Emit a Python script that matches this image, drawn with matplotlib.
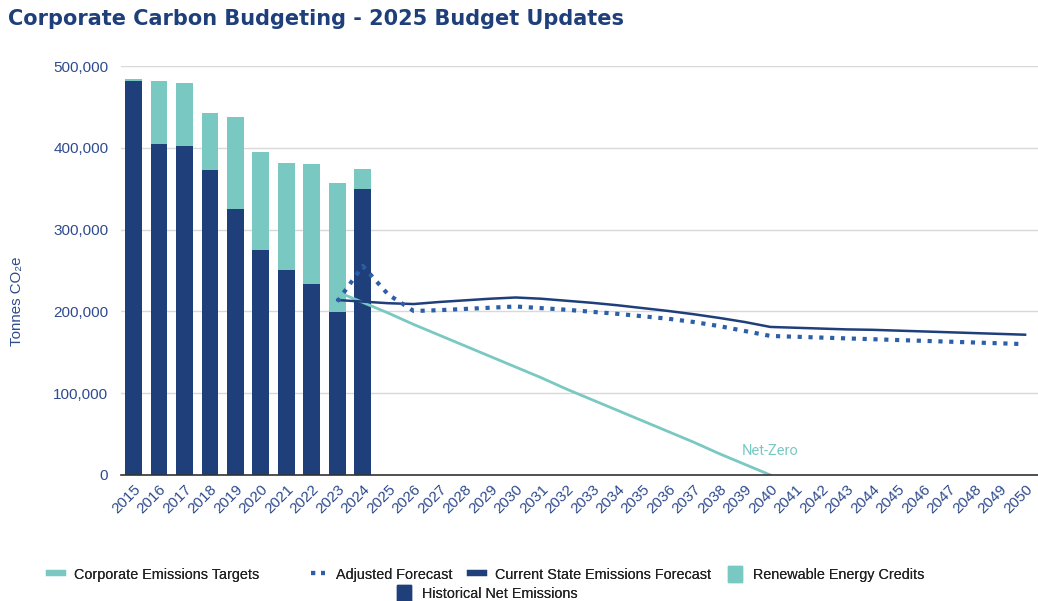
import matplotlib.pyplot as plt
from matplotlib.lines import Line2D
from matplotlib.patches import Patch

# ---- data ----
anos = list(range(2015, 2051))
anos_hist = list(range(2015, 2025))

emissoes_liquidas = [482000, 404500, 401800, 372900, 324800, 275000, 250600, 233000, 199700, 349600]
creditos_renovaveis = [2000, 77200, 77000, 69600, 113200, 119500, 130400, 146800, 156900, 24400]

anos_meta = list(range(2023, 2041))
metas_corporativas = [224000, 211000, 198000, 184000, 171000, 158000, 145000, 132000, 119000,
                      105000, 92000, 79000, 66000, 53000, 40000, 26000, 13000, 0]

anos_previsao = list(range(2023, 2051))
estado_atual = [213900, 212000, 210000, 209000, 211500, 213500, 215500, 217000, 215500, 213000,
                210500, 207500, 204000, 200500, 196500, 192000, 187000, 181000, 180000, 179000,
                178000, 177500, 176500, 175500, 174500, 173500, 172500, 171500]
previsao_ajustada = [212000, 255500, 220600, 200500, 201500, 203000, 204500, 206000, 204000, 202000,
                     199500, 197000, 194000, 191000, 187000, 182000, 176000, 170000, 169000, 168000,
                     167000, 166000, 165000, 164000, 163000, 162000, 161000, 160000]

# ---- cores ----
AZUL_ESCURO = '#1f3f7b'
TEAL = '#79c9c2'
AZUL_PONTILHADO = '#2c5fa8'
COR_TEXTO = '#2e4b8e'

plt.rcParams['font.family'] = ['Liberation Sans', 'DejaVu Sans']

fig = plt.figure(figsize=(10.38, 6.01), dpi=100)
ax = fig.add_axes([120.8 / 1038, 1 - 475 / 601, 917 / 1038, (475 - 66) / 601])

idx = {a: i for i, a in enumerate(anos)}
x_hist = [idx[a] for a in anos_hist]

ax.bar(x_hist, emissoes_liquidas, width=0.66, color=AZUL_ESCURO, zorder=2)
ax.bar(x_hist, creditos_renovaveis, width=0.66, bottom=emissoes_liquidas, color=TEAL, zorder=2)

ax.plot([idx[a] for a in anos_meta], metas_corporativas, color=TEAL, lw=2.0, zorder=3)
ax.plot([idx[a] for a in anos_previsao], estado_atual, color=AZUL_ESCURO, lw=1.8, zorder=4)
ax.plot([idx[a] for a in anos_previsao], previsao_ajustada, color=AZUL_PONTILHADO, lw=3.0,
        linestyle=(0, (1, 1.6)), zorder=4)

ax.text(idx[2040], 29000, 'Net-Zero', color=TEAL, fontsize=10.5, ha='center', va='center',
        family=['Roboto', 'DejaVu Sans'])

ax.set_xlim(-0.5, len(anos) - 0.5)
ax.set_ylim(0, 500000)
ax.set_yticks(range(0, 500001, 100000))
ax.set_yticklabels([f'{v:,}' for v in range(0, 500001, 100000)])
ax.set_xticks(range(len(anos)))
ax.set_xticklabels([str(a) for a in anos], rotation=45, ha='right', rotation_mode='anchor')

ax.tick_params(axis='both', length=0, colors=COR_TEXTO, labelsize=11)
ax.tick_params(axis='y', pad=9)
ax.tick_params(axis='x', pad=5)

ax.grid(axis='y', color='#d9d9d9', lw=1.0, zorder=0)
for lado in ['top', 'right', 'left']:
    ax.spines[lado].set_visible(False)
ax.spines['bottom'].set_color('#333333')
ax.spines['bottom'].set_linewidth(1.2)
ax.spines['bottom'].set_zorder(5)

fig.text(17 / 1038, 1 - 301 / 601, 'Tonnes CO₂e', rotation=90, color=COR_TEXTO,
         fontsize=10.8, ha='center', va='center')

fig.text(8 / 1038, 1 - 19 / 601, 'Corporate Carbon Budgeting - 2025 Budget Updates',
         fontsize=15, fontweight='bold', color=AZUL_ESCURO, ha='left', va='center',
         family=['DejaVu Sans'])

# ---- legenda (itens posicionados um a um) ----
itens = [
    (Line2D([], [], color=TEAL, lw=4.5), 'Corporate Emissions Targets', 49, 574),
    (Line2D([], [], color=AZUL_PONTILHADO, lw=3.0, linestyle=(0, (1, 1.4))), 'Adjusted Forecast', 311, 574),
    (Line2D([], [], color=AZUL_ESCURO, lw=4.5), 'Current State Emissions Forecast', 470, 574),
    (Patch(color=TEAL), 'Renewable Energy Credits', 728, 574),
    (Patch(color=AZUL_ESCURO), 'Historical Net Emissions', 397, 593),
]
for handle, rotulo, px, py in itens:
    leg = fig.legend(handles=[handle], labels=[rotulo], loc='center left',
                     bbox_to_anchor=(px / 1038, 1 - py / 601), frameon=False,
                     fontsize=10.4, handlelength=1.0, handleheight=1.25, handletextpad=0.75,
                     borderpad=0, borderaxespad=0)
    for t in leg.get_texts():
        t.set_color('#222222')
    fig.add_artist(leg)

fig.savefig('out.png', dpi=100)
